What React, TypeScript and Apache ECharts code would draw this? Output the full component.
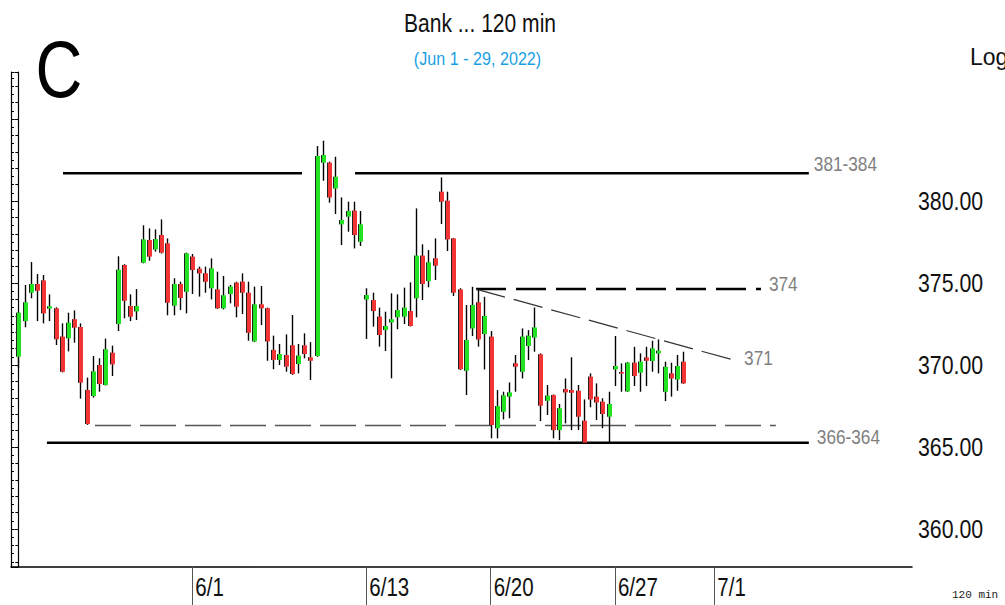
import React, { useEffect, useRef } from 'react';
import * as echarts from 'echarts';

// ---- candle data (120-min bars, index = bar number) ----
const opens = [
  370.51, 372.68, 374.41, 374.94, 375.16, 373.44, 373.46, 371.73, 371.63, 372.79,
  372.32, 368.48, 368.11, 370.00, 368.78, 370.75, 372.50, 376.10, 373.60, 373.27,
  376.24, 377.62, 377.05, 377.93, 377.42, 373.62, 374.94, 374.47, 376.61, 375.87,
  375.59, 374.68, 374.61, 373.46, 374.33, 375.02, 375.08, 374.41, 371.44, 373.70,
  373.46, 370.92, 370.31, 370.61, 371.20, 370.06, 371.20, 370.47, 370.55, 382.34,
  382.34, 380.77, 378.58, 379.05, 379.41, 377.52, 374.00, 373.96, 372.95, 372.13,
  372.60, 372.91, 372.95, 373.29, 374.07, 376.67, 375.12, 376.50, 380.57, 380.02,
  377.72, 374.61, 369.65, 372.23, 373.82, 371.89, 371.73, 366.14, 367.15, 368.07,
  370.10, 369.59, 371.16, 371.68, 370.65, 367.82, 368.17, 366.03, 368.53, 368.47,
  368.43, 366.60, 369.29, 368.07, 367.76, 366.85, 369.73, 369.57, 368.39, 370.14,
  369.53, 370.46, 370.24, 370.71, 368.37, 369.49, 369.12, 370.20,
];
const closes = [
  373.19, 373.82, 374.94, 374.53, 373.15, 373.58, 371.57, 369.59, 372.58, 372.28,
  368.92, 366.40, 369.61, 368.84, 370.96, 370.04, 375.81, 373.92, 372.95, 373.60,
  377.66, 376.61, 377.68, 376.85, 373.80, 374.94, 374.09, 376.81, 375.79, 375.59,
  375.08, 375.89, 373.46, 374.25, 374.78, 373.56, 374.41, 371.97, 373.70, 373.46,
  371.44, 370.31, 370.67, 369.90, 369.45, 370.57, 370.67, 370.26, 382.74, 382.81,
  380.22, 381.48, 378.84, 379.39, 377.93, 378.58, 374.27, 373.29, 371.83, 372.38,
  372.79, 373.35, 373.50, 372.38, 376.67, 374.94, 376.26, 376.06, 379.96, 377.66,
  374.41, 369.74, 371.52, 373.66, 371.56, 372.99, 366.34, 367.50, 368.15, 368.33,
  369.90, 371.73, 371.79, 372.29, 367.52, 368.13, 366.03, 367.36, 368.33, 368.31,
  366.85, 365.26, 367.90, 367.72, 367.01, 367.62, 369.94, 369.49, 370.14, 369.33,
  370.20, 370.26, 371.01, 370.87, 369.89, 369.18, 369.94, 368.88,
];
const lows = [
  369.80, 372.30, 374.07, 372.68, 372.54, 372.68, 371.22, 369.55, 370.83, 371.36,
  367.95, 366.35, 368.01, 368.37, 368.75, 369.33, 372.07, 372.85, 372.68, 372.74,
  376.20, 376.36, 376.91, 376.80, 373.03, 373.03, 373.35, 373.15, 374.33, 374.17,
  374.41, 374.00, 373.42, 373.39, 373.76, 372.91, 373.11, 371.48, 371.40, 372.44,
  370.26, 369.74, 370.00, 369.59, 369.40, 369.49, 370.41, 369.09, 370.50, 381.24,
  379.90, 379.21, 377.32, 378.13, 377.11, 377.26, 371.59, 372.34, 371.12, 370.85,
  369.19, 372.18, 372.50, 372.35, 372.91, 373.96, 374.74, 375.18, 378.60, 376.95,
  374.21, 369.70, 368.17, 371.77, 371.12, 369.73, 365.53, 365.53, 366.68, 366.75,
  368.37, 369.18, 370.30, 370.81, 366.58, 366.95, 365.53, 365.42, 366.44, 366.03,
  366.03, 365.20, 367.42, 366.64, 366.14, 365.26, 368.72, 368.37, 368.35, 368.72,
  368.37, 368.72, 369.59, 369.49, 367.80, 368.07, 368.43, 368.85,
];
const highs = [
  373.25, 374.88, 376.28, 375.55, 375.49, 374.31, 373.52, 372.54, 373.19, 373.33,
  372.54, 369.23, 370.55, 370.41, 371.61, 371.18, 376.63, 376.15, 374.31, 374.63,
  378.52, 378.33, 378.27, 378.88, 377.72, 375.29, 375.08, 376.85, 376.77, 376.00,
  376.00, 376.50, 375.69, 375.43, 374.88, 375.08, 375.59, 375.08, 374.78, 374.82,
  373.50, 371.79, 371.28, 371.87, 373.05, 371.28, 371.93, 371.40, 383.35, 383.68,
  382.40, 382.70, 380.22, 379.96, 379.96, 379.39, 374.68, 374.41, 373.50, 373.25,
  374.37, 374.31, 374.72, 375.04, 379.55, 377.36, 377.01, 377.72, 381.44, 380.57,
  377.75, 374.68, 373.66, 374.77, 374.61, 374.16, 372.07, 368.47, 368.37, 368.94,
  370.61, 372.23, 372.13, 373.51, 370.71, 368.78, 368.20, 367.62, 369.18, 370.47,
  368.78, 367.90, 369.49, 368.88, 367.97, 368.37, 371.77, 370.10, 370.18, 371.11,
  370.71, 371.11, 371.48, 371.56, 370.20, 370.14, 370.61, 370.81,
];

// ---- x-axis date ticks (bar index where each date starts) ----
const tickIndex = [28, 56, 76, 96, 112];
const tickLabels = ['6/1', '6/13', '6/20', '6/27', '7/1'];

// ---- price axis labels ----
const priceLabels = [360, 365, 370, 375, 380];

// ---- axis range ----
const xRange = [-1.175, 143.8];
const yRange = [357.68, 387.87];

// ---- annotation levels: [x start, y start, x end, y end] in bar index / price ----
const resistanceA = [7.19, 381.7, 45.65, 381.7];
const resistanceB = [54.18, 381.7, 127.2, 381.7];
const level374 = [73.65, 374.63, 119.5, 374.63];
const trend371 = [73.65, 374.63, 115.5, 370.26];
const level366 = [12.34, 366.31, 121.9, 366.31];
const support365 = [4.6, 365.26, 127.2, 365.26];
const annotationTexts = ['381-384', '374', '371', '366-364'];

const SANS = "'Liberation Sans', Arial, sans-serif";
const NARROW_SCALE = 0.82;
const GREEN = '#22e322';
const RED = '#f23434';

function seg(a: number[]) {
  return [[a[0], a[1]], [a[2], a[3]]];
}

export default function App() {
  const ref = useRef<HTMLDivElement>(null);

  useEffect(() => {
    document.body.style.margin = '0';
    if (!ref.current) return;
    const chart = echarts.init(ref.current, undefined, { renderer: 'svg' });

    const candleData = opens.map((o, i) => [i, o, closes[i], lows[i], highs[i]]);

    const lineSeries = (data: number[], color: string, width: number, dash: number[] | 'solid') => ({
      type: 'line',
      data: seg(data),
      symbol: 'none',
      silent: true,
      z: 1,
      lineStyle: { color, width, type: dash },
    });

    chart.setOption({
      animation: false,
      grid: { left: 11, right: 93, top: 72, bottom: 38, containLabel: false },
      xAxis: {
        type: 'value',
        min: xRange[0],
        max: xRange[1],
        splitLine: { show: false },
        axisLine: { show: true, onZero: false, lineStyle: { color: '#000', width: 1.5 } },
        axisTick: {
          show: true,
          customValues: tickIndex,
          length: 38,
          lineStyle: { color: '#555', width: 1 },
        },
        axisLabel: { show: false },
      },
      yAxis: [
        {
          type: 'value',
          position: 'right',
          min: yRange[0],
          max: yRange[1],
          splitNumber: 6,
          splitLine: { show: false },
          axisLine: { show: true, lineStyle: { color: '#000', width: 1.2 } },
          axisTick: { show: true, inside: true, length: 4, lineStyle: { color: '#000' } },
          minorTick: { show: true, splitNumber: 5, length: 3, lineStyle: { color: '#000' } },
          axisLabel: { show: false },
        },
        {
          type: 'value',
          position: 'left',
          min: yRange[0],
          max: yRange[1],
          splitNumber: 6,
          splitLine: { show: false },
          axisLine: { show: true, lineStyle: { color: '#000', width: 1.2 } },
          axisTick: { show: true, inside: true, length: 3, lineStyle: { color: '#000' } },
          minorTick: { show: true, splitNumber: 10, length: 3, lineStyle: { color: '#000' } },
          axisLabel: { show: false },
        },
      ],
      series: [
        lineSeries(resistanceA, '#000', 2.5, 'solid'),
        lineSeries(resistanceB, '#000', 2.5, 'solid'),
        lineSeries(level374, '#000', 2.5, [30, 10]),
        lineSeries(trend371, '#333', 1.2, [30, 9]),
        lineSeries(level366, '#555', 1.5, [36, 9]),
        lineSeries(support365, '#000', 2.5, 'solid'),
        {
          type: 'custom',
          z: 3,
          clip: true,
          data: candleData,
          encode: { x: 0, y: [1, 2, 3, 4] },
          renderItem: (params: any, api: any) => {
            const x = api.value(0);
            const o = api.value(1);
            const c = api.value(2);
            const l = api.value(3);
            const h = api.value(4);
            const top = api.coord([x, Math.max(o, c)]);
            const bot = api.coord([x, Math.min(o, c)]);
            const hi = api.coord([x, h]);
            const lo = api.coord([x, l]);
            const cx = Math.round(top[0]) + 0.5;
            const bw = 5;
            const bh = Math.max(1.5, bot[1] - top[1]);
            const up = c >= o;
            return {
              type: 'group',
              children: [
                {
                  type: 'line',
                  shape: { x1: cx, y1: hi[1], x2: cx, y2: lo[1] },
                  style: { stroke: '#000', lineWidth: 1.4 },
                },
                {
                  type: 'rect',
                  shape: { x: cx - 2.5, y: top[1], width: bw, height: bh },
                  style: { fill: up ? GREEN : RED },
                },
                {
                  type: 'line',
                  shape: { x1: cx - 2, y1: top[1], x2: cx - 2, y2: top[1] + bh },
                  style: { stroke: '#222', lineWidth: 1 },
                },
              ],
            };
          },
        },
      ],
    });

    // pixel positions from the chart's own scales
    const px = (x: number, y: number) =>
      chart.convertToPixel({ xAxisIndex: 0, yAxisIndex: 0 }, [x, y]) as number[];
    const [gridRight, gridBottom] = px(xRange[1], yRange[0]);

    const narrowText = (
      text: string,
      x: number,
      y: number,
      fontSize: number,
      fill: string,
      align = 'left',
      scale = NARROW_SCALE
    ) => ({
      type: 'text',
      x,
      y,
      scaleX: scale,
      silent: true,
      z: 10,
      style: { text, fontSize, fontFamily: SANS, fill, align, verticalAlign: 'middle' },
    });

    const graphic: any[] = [];
    // price labels
    priceLabels.forEach((v) => {
      const p = px(xRange[1], v);
      graphic.push(narrowText(v.toFixed(2), gridRight + 6, p[1], 26, '#111'));
    });
    // date labels
    tickIndex.forEach((t, k) => {
      const p = px(t, yRange[0]);
      graphic.push(narrowText(tickLabels[k], p[0] + 3, gridBottom + 20, 25, '#111'));
    });
    // annotation labels
    const ends = [resistanceB, level374, trend371, support365];
    const offsets = [
      [5, -9],
      [8, -5],
      [8, -3],
      [8, -6],
    ];
    ends.forEach((a, k) => {
      const p = px(a[2], a[3]);
      graphic.push(
        narrowText(annotationTexts[k], p[0] + offsets[k][0], p[1] + offsets[k][1], 21, '#7f7f7f')
      );
    });
    // titles and corner texts
    graphic.push(narrowText('Bank ... 120 min', 480, 23, 26, '#111', 'center', 0.81));
    graphic.push(narrowText('(Jun 1 - 29, 2022)', 477.5, 59, 19, '#1a9fe3', 'center', 0.85));
    graphic.push(narrowText('C', 59, 69, 80, '#000', 'center', 0.81));
    graphic.push({
      type: 'text',
      x: 970,
      y: 57,
      silent: true,
      style: { text: 'Log', fontSize: 23, fontFamily: SANS, fill: '#111', align: 'left', verticalAlign: 'middle' },
    });
    graphic.push({
      type: 'text',
      x: 952,
      y: 595,
      silent: true,
      style: {
        text: '120 min',
        fontSize: 11,
        fontFamily: "'Liberation Mono', 'Courier New', monospace",
        fill: '#222',
        align: 'left',
        verticalAlign: 'middle',
      },
    });

    chart.setOption({ graphic });

    return () => chart.dispose();
  }, []);

  return <div ref={ref} style={{ width: 1005, height: 605 }} />;
}
